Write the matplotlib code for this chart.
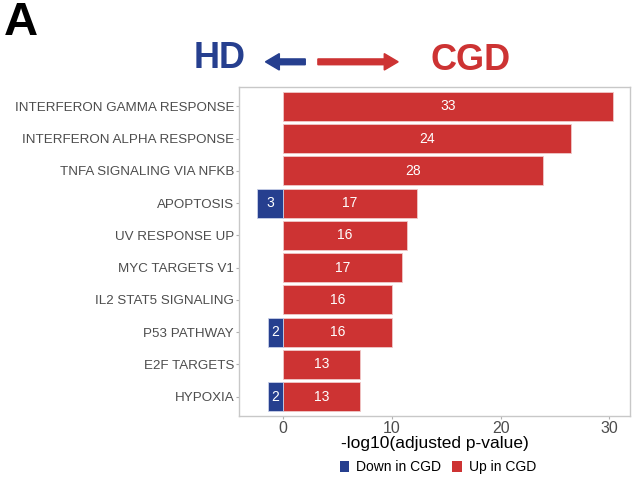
import matplotlib
matplotlib.use("Agg")
import matplotlib.pyplot as plt
from matplotlib.patches import FancyArrow

plt.rcParams['font.family'] = ['Liberation Sans', 'DejaVu Sans']

pathways = ["INTERFERON GAMMA RESPONSE", "INTERFERON ALPHA RESPONSE", "TNFA SIGNALING VIA NFKB",
            "APOPTOSIS", "UV RESPONSE UP", "MYC TARGETS V1", "IL2 STAT5 SIGNALING",
            "P53 PATHWAY", "E2F TARGETS", "HYPOXIA"]
up_values = [30.3, 26.5, 23.9, 12.3, 11.4, 10.9, 10.0, 10.0, 7.06, 7.06]
up_counts = [33, 24, 28, 17, 16, 17, 16, 16, 13, 13]
down_values = [None, None, None, -2.4, None, None, None, -1.35, None, -1.35]
down_counts = [None, None, None, 3, None, None, None, 2, None, 2]
x_ticks = [0, 10, 20, 30]

RED = '#CD3333'
BLUE = '#263F8F'

fig = plt.figure(figsize=(6.32, 4.83), dpi=100)
ax = fig.add_axes([0.378, 0.139, 0.619, 0.681])

n = len(pathways)
ys = list(range(n))[::-1]
ax.barh(ys, up_values, height=0.9, color=RED, edgecolor='#F0C8C8', linewidth=0.6, label='Up in CGD')
for y, v, c in zip(ys, up_values, up_counts):
    ax.text(v / 2, y, str(c), color='white', ha='center', va='center', fontsize=10)
dy = [y for y, v in zip(ys, down_values) if v is not None]
dv = [v for v in down_values if v is not None]
dc = [c for c in down_counts if c is not None]
ax.barh(dy, dv, height=0.9, color=BLUE, edgecolor='#C8D0E8', linewidth=0.6, label='Down in CGD')
for y, v, c in zip(dy, dv, dc):
    ax.text(v / 2, y, str(c), color='white', ha='center', va='center', fontsize=10)

ax.set_xlim(-4.04, 31.9)
ax.set_ylim(-0.6, n - 0.4)
ax.set_yticks(ys)
ax.set_yticklabels(pathways, fontsize=9.6, color='#4D4D4D')
ax.set_xticks(x_ticks)
ax.set_xticklabels([str(t) for t in x_ticks], fontsize=11.5, color='#4D4D4D')
ax.tick_params(axis='both', color='#B0B0B0', length=2.5, width=0.8, pad=1)
for s in ax.spines.values():
    s.set_color('#C8C8C8')
    s.set_linewidth(1.0)
ax.set_xlabel('-log10(adjusted p-value)', fontsize=12.5, color='black', labelpad=0)

handles, labels = ax.get_legend_handles_labels()
leg = fig.legend(handles[::-1], labels[::-1], loc='center', bbox_to_anchor=(0.693, 0.033),
                 ncol=2, frameon=False, fontsize=10, handlelength=0.7, handleheight=0.9,
                 handletextpad=0.5, columnspacing=0.8)
for h in leg.legend_handles:
    h.set_edgecolor('none')

fig.text(0.006, 0.953, 'A', fontsize=34, fontweight='bold', color='black', ha='left', va='center')
fig.text(0.347, 0.879, 'HD', fontsize=26, fontweight='bold', color=BLUE, ha='center', va='center',
         family=['Liberation Sans Narrow', 'Liberation Sans'])
fig.text(0.744, 0.874, 'CGD', fontsize=26, fontweight='bold', color=RED, ha='center', va='center',
         family=['Liberation Sans Narrow', 'Liberation Sans'])
fig.patches.append(FancyArrow(0.483, 0.872, -0.063, 0, width=0.012, head_width=0.034, head_length=0.022,
                              length_includes_head=True, color=BLUE, transform=fig.transFigure))
fig.patches.append(FancyArrow(0.503, 0.872, 0.127, 0, width=0.012, head_width=0.034, head_length=0.022,
                              length_includes_head=True, color=RED, transform=fig.transFigure))

fig.savefig('out.png', dpi=100)
